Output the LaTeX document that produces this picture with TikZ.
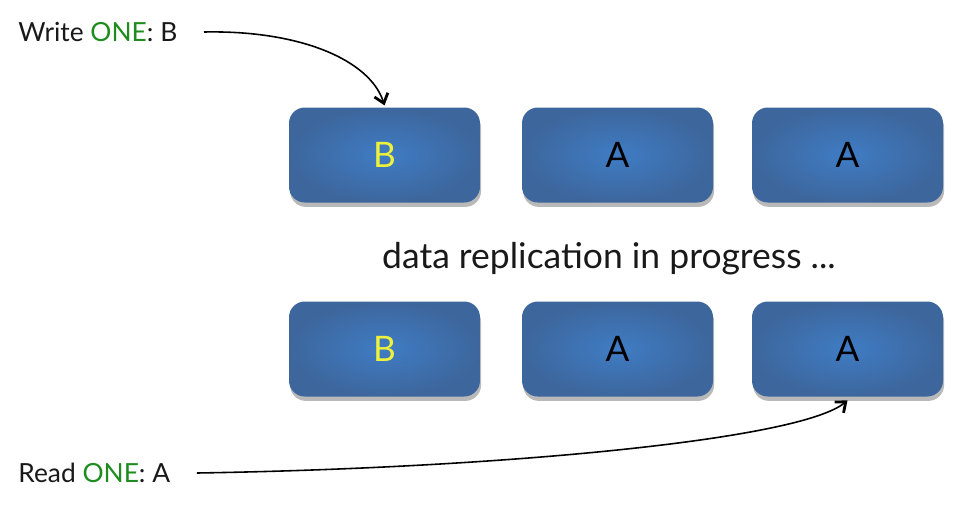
\documentclass[tikz,border=0pt]{standalone}
\usepackage{fontspec}
\setmainfont{Lato}
\usetikzlibrary{shadows,arrows.meta}
\definecolor{boxdark}{HTML}{3D669C}
\definecolor{boxlight}{HTML}{3F7CC4}
\definecolor{onegreen}{HTML}{1E8C1E}
\definecolor{newval}{HTML}{EEF23A}
\tikzset{
  replica/.style={rounded corners=9pt, minimum width=191*0.02cm, minimum height=95*0.02cm,
    inner color=boxlight, outer color=boxdark,
    drop shadow={shadow xshift=0.6pt, shadow yshift=-2.5pt, opacity=0.55},
    font=\fontsize{20}{23}\selectfont},
  oplabel/.style={font=\fontsize{15}{18}\selectfont, text=black!90, inner sep=0pt},
  flow/.style={line width=0.9pt, -{Straight Barb[length=5pt,width=8pt,line width=1.6pt]}}
}
\begin{document}
\begin{tikzpicture}[x=0.02cm, y=-0.02cm]
\useasboundingbox (0,0) rectangle (976,508);

\foreach \n/\x/\t/\c in {a/384.5/B/newval, b/617.5/A/black, c/847.5/A/black}{
	\node[replica, text=\c] (top\n) at (\x,155) {\t};
	\node[replica, text=\c] (bot\n) at (\x,349) {\t};
	}

\node[font=\fontsize{20.2}{24}\selectfont, text=black!90] (msg) at (609,259) {data replication in progress ...};

\node[oplabel, anchor=west] (write) at (18,32) {Write \textcolor{onegreen}{ONE}: B};
\node[oplabel, anchor=west] (read) at (18,473) {Read \textcolor{onegreen}{ONE}: A};

\draw[flow] ([xshift=15pt]write.east) .. controls (300,30) and (370,60) .. ([yshift=1pt]topa.north);
\draw[flow] ([xshift=15pt]read.east) .. controls (500,468) and (800,440) .. ([yshift=-2pt]botc.south);
\end{tikzpicture}
\end{document}
